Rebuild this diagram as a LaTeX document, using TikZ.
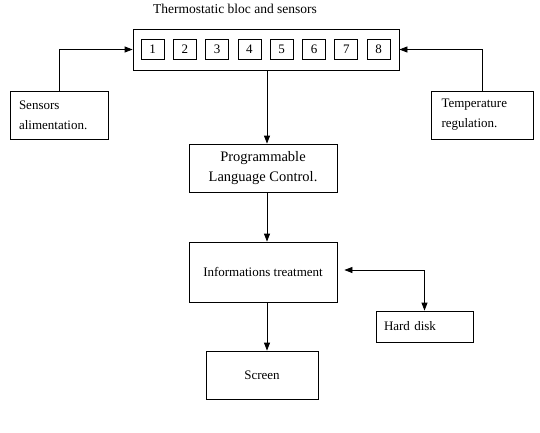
\documentclass[tikz,border=0pt]{standalone}
\usepackage{fontspec}
\setmainfont{Liberation Serif}
\usetikzlibrary{arrows.meta, positioning, calc}

\tikzset{
  box/.style={draw, thick, rectangle, inner sep=0pt, font=\fontsize{13}{20}\selectfont, align=center},
  leftbox/.style={box, align=left, inner xsep=9pt},
  cellbox/.style={draw, thick, rectangle, inner sep=0pt, minimum width=23pt, minimum height=20pt, font=\fontsize{13}{15}\selectfont},
  flow/.style={thick, -{Triangle[length=8pt, width=6pt]}},
}

\begin{document}
\begin{tikzpicture}[x=1pt, y=-1pt]
  \useasboundingbox[fill=white] (0, 0) rectangle (540, 432);

  % Thermostatic bloc
  \node[font=\fontsize{13.5}{15}\selectfont] (title) at (235, 9) {Thermostatic bloc and sensors};
  \node[box, minimum width=266pt, minimum height=41pt] (bloc) at (266, 49.5) {};
  \foreach \i in {1,...,8} {
    \node[cellbox] (cell\i) at ({152.5 + 32.3*(\i-1)}, 49) {\i};
  }

  % Side boxes
  \node[leftbox, text width=80pt, minimum height=48pt] (sensors) at (59, 115) {Sensors\\alimentation.};
  \node[leftbox, text width=82pt, inner xsep=10pt, minimum height=48pt] (temp) at (482.5, 115) {Temperature\\regulation.};

  % Main chain
  \node[box, minimum width=148pt, minimum height=48pt, font=\fontsize{14.5}{20}\selectfont] (plc) at (263, 168) {Programmable\\Language Control.};
  \node[box, minimum width=148pt, minimum height=60pt] (info) at (263, 272) {Informations treatment};
  \node[box, minimum width=112pt, minimum height=48pt] (screen) at (262, 375) {Screen};
  \node[leftbox, text width=81pt, inner xsep=8pt, minimum height=31pt] (hd) at (424.5, 326.5) {Hard disk};

  % Connectors
  \coordinate (axis) at (267, 0);
  \draw[flow] (sensors.north) |- (bloc.west);
  \draw[flow] (temp.north) |- (bloc.east);
  \draw[flow] (axis |- bloc.south) -- (axis |- plc.north);
  \draw[flow] (axis |- plc.south) -- (axis |- info.north);
  \draw[flow] (axis |- info.south) -- (axis |- screen.north);
  \coordinate (infoport) at ($(info.east) + (7, -2)$);
  \draw[thick, {Triangle[length=8pt, width=6pt]}-{Triangle[length=8pt, width=6pt]}] (infoport) -| (hd.north);
\end{tikzpicture}
\end{document}
